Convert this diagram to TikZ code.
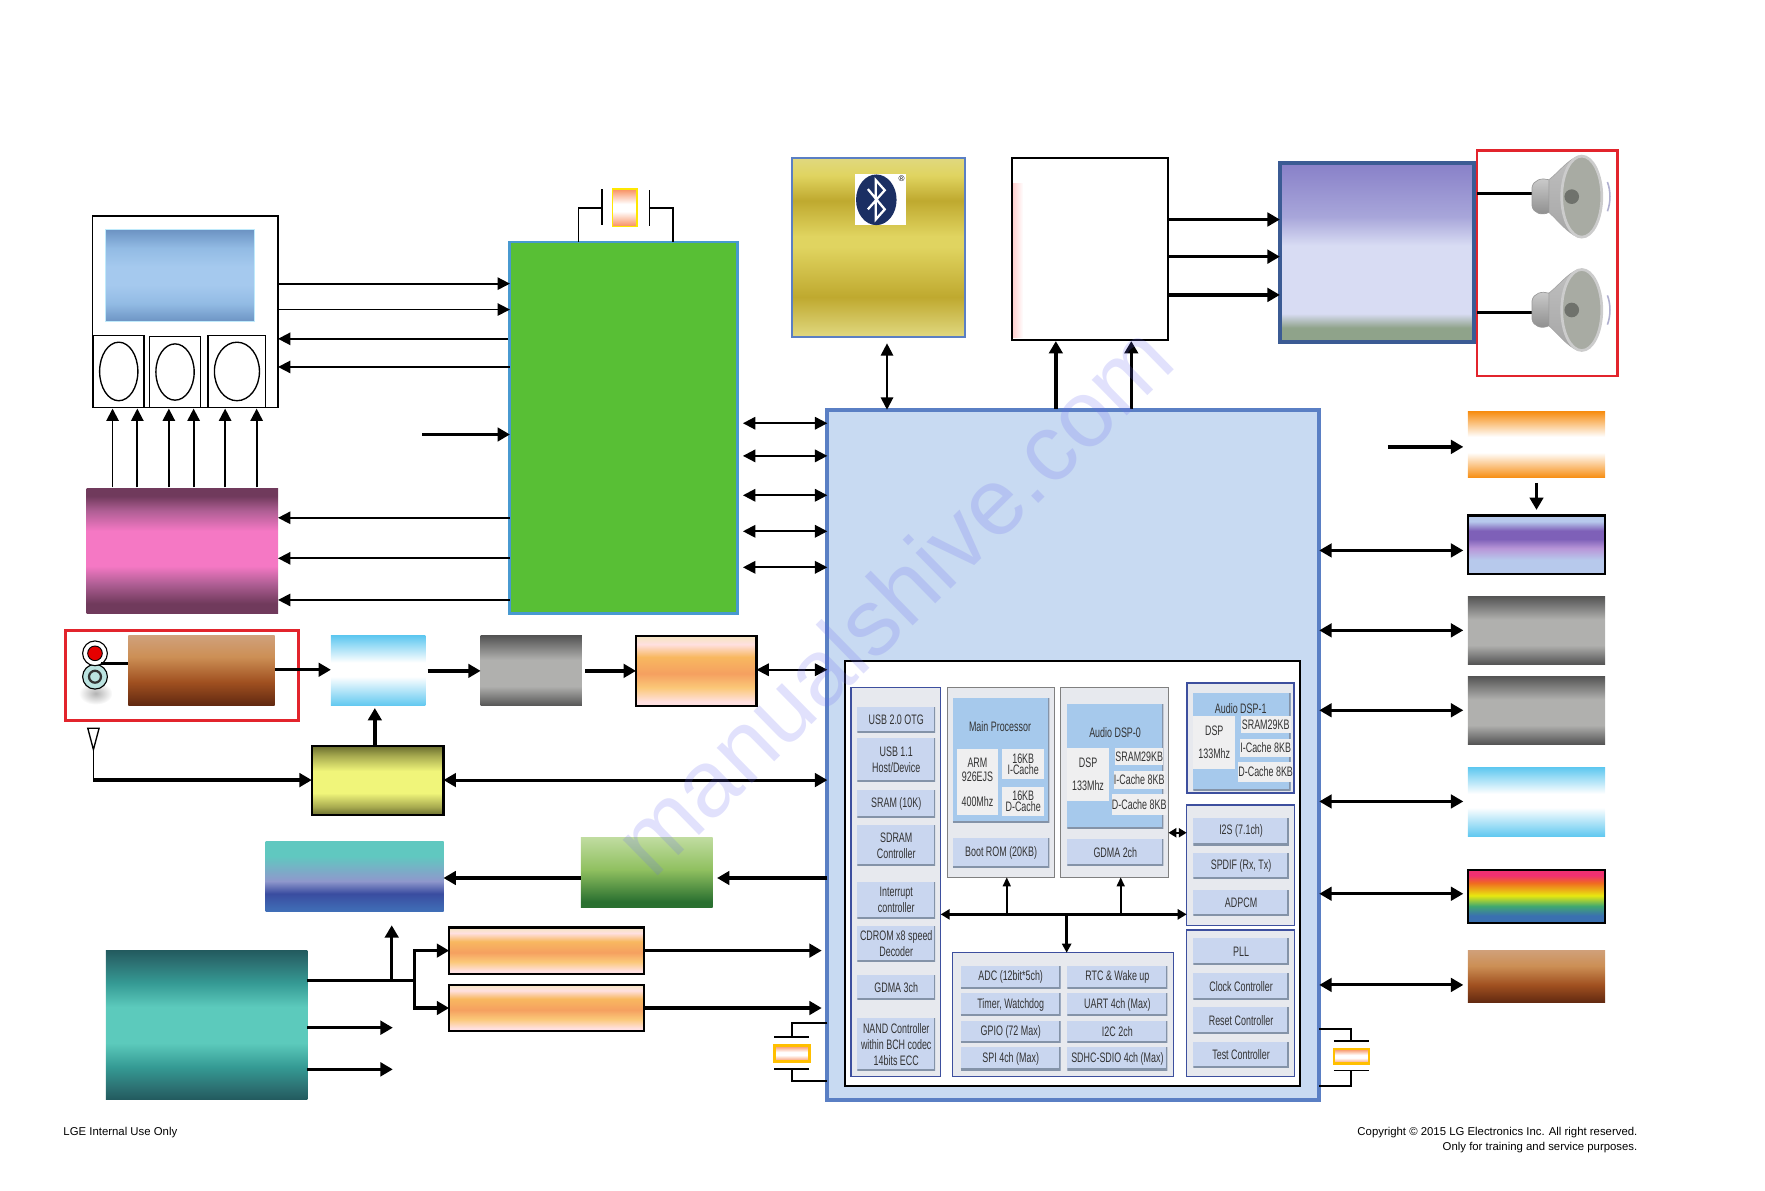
\documentclass[tikz,border=0pt]{standalone}
\usepackage{fontspec}
\setmainfont{Liberation Sans}
\newfontfamily\cellfont[FakeStretch=0.65]{Liberation Sans}
\usetikzlibrary{arrows.meta}

\definecolor{socfill}{HTML}{C8DAF2}
\definecolor{socline}{HTML}{5A7FC4}
\definecolor{panelfill}{HTML}{E7E9EE}
\definecolor{panelline}{HTML}{3D4F9E}
\definecolor{ampline}{HTML}{3B5B94}
\definecolor{cellfill}{HTML}{C9D6EF}
\definecolor{cellshade}{HTML}{8493A8}
\definecolor{dspblue}{HTML}{A6C9EC}
\definecolor{corewhite}{HTML}{EFEFF0}
\definecolor{redline}{HTML}{E2242C}
\definecolor{boardgreen}{HTML}{58BF35}
\definecolor{jackfill}{HTML}{BBE3E0}
\definecolor{conefill}{HTML}{A8ABA3}
\definecolor{domefill}{HTML}{6F726C}
\definecolor{cA}{HTML}{6C93C3}\definecolor{cB}{HTML}{92BBE4}\definecolor{cC}{HTML}{A5C9EE}
\definecolor{pA}{HTML}{703A5C}\definecolor{pB}{HTML}{B05F95}\definecolor{pC}{HTML}{F578C4}
\definecolor{tA}{HTML}{225A5E}\definecolor{tM}{HTML}{2C7072}\definecolor{tB}{HTML}{359A94}\definecolor{tC}{HTML}{5CCABC}
\definecolor{bA}{HTML}{D0A07A}\definecolor{bB}{HTML}{CC8F55}\definecolor{bC}{HTML}{A05020}\definecolor{bD}{HTML}{602810}
\definecolor{gA}{HTML}{E0D880}\definecolor{gB}{HTML}{BFA92F}\definecolor{gC}{HTML}{E0D460}
\definecolor{aA}{HTML}{8880C8}\definecolor{aB}{HTML}{A8A6DA}\definecolor{aC}{HTML}{D8DCF3}\definecolor{aD}{HTML}{8FA38A}
\definecolor{oA}{HTML}{F78F15}
\definecolor{vA}{HTML}{B7C9EC}\definecolor{vB}{HTML}{7E60B8}\definecolor{vC}{HTML}{B896D8}
\definecolor{sA}{HTML}{555555}\definecolor{sB}{HTML}{B0B0AE}
\definecolor{uA}{HTML}{60C8F0}
\definecolor{rA}{HTML}{F03070}\definecolor{rB}{HTML}{F06A20}\definecolor{rC}{HTML}{E8E810}\definecolor{rD}{HTML}{40A870}\definecolor{rE}{HTML}{3A70B0}
\definecolor{fA}{HTML}{F5E5C0}\definecolor{fB}{HTML}{FFE0E0}\definecolor{fC}{HTML}{F8B860}\definecolor{fD}{HTML}{F5A060}\definecolor{fE}{HTML}{FBC878}
\definecolor{yA}{HTML}{6B6F2F}\definecolor{yM}{HTML}{A8AB50}\definecolor{yB}{HTML}{F0F57A}
\definecolor{iA}{HTML}{60C8C0}\definecolor{iB}{HTML}{8F98CC}\definecolor{iC}{HTML}{3A4CA0}\definecolor{iD}{HTML}{4070B8}
\definecolor{nA}{HTML}{C0DCA0}\definecolor{nB}{HTML}{90C060}\definecolor{nC}{HTML}{2A7030}
\definecolor{xA}{HTML}{F89060}
\definecolor{btnavy}{HTML}{1B2F63}
\definecolor{wmark}{HTML}{6A6AF0}

\pgfdeclareverticalshading{shscreen}{100bp}{color(0bp)=(cA);color(25bp)=(cA);color(35bp)=(cB);color(45bp)=(cC);color(55bp)=(cC);color(65bp)=(cB);color(75bp)=(cA);color(100bp)=(cA)}
\pgfdeclareverticalshading{shpink}{100bp}{color(0bp)=(pA);color(25bp)=(pA);color(29bp)=(pA);color(37bp)=(pB);color(44bp)=(pC);color(58bp)=(pC);color(66bp)=(pB);color(72bp)=(pA);color(75bp)=(pA);color(100bp)=(pA)}
\pgfdeclareverticalshading{shteal}{100bp}{color(0bp)=(tA);color(25bp)=(tA);color(29bp)=(tM);color(36bp)=(tB);color(44bp)=(tC);color(56bp)=(tC);color(64bp)=(tB);color(71bp)=(tM);color(75bp)=(tA);color(100bp)=(tA)}
\pgfdeclareverticalshading{shbrown}{100bp}{color(0bp)=(bD);color(25bp)=(bD);color(42bp)=(bC);color(60bp)=(bB);color(75bp)=(bA);color(100bp)=(bA)}
\pgfdeclareverticalshading{shgold}{100bp}{color(0bp)=(gA);color(25bp)=(gA);color(36bp)=(gB);color(50bp)=(gC);color(53bp)=(gC);color(63bp)=(gB);color(70bp)=(gC);color(75bp)=(gA);color(100bp)=(gA)}
\pgfdeclareverticalshading{shamp}{100bp}{color(0bp)=(aD);color(25bp)=(aD);color(29bp)=(aD);color(33bp)=(aC);color(52bp)=(aC);color(60bp)=(aB);color(75bp)=(aA);color(100bp)=(aA)}
\pgfdeclareverticalshading{shorange}{100bp}{color(0bp)=(oA);color(25bp)=(oA);color(44bp)=(white);color(56bp)=(white);color(75bp)=(oA);color(100bp)=(oA)}
\pgfdeclareverticalshading{shviolet}{100bp}{color(0bp)=(vA);color(25bp)=(vA);color(37bp)=(vA);color(47bp)=(vC);color(55bp)=(vB);color(62bp)=(vB);color(70bp)=(vA);color(75bp)=(vA);color(100bp)=(vA)}
\pgfdeclareverticalshading{shgray}{100bp}{color(0bp)=(sA);color(25bp)=(sA);color(39bp)=(sB);color(58bp)=(sB);color(75bp)=(sA);color(100bp)=(sA)}
\pgfdeclareverticalshading{shcyan}{100bp}{color(0bp)=(uA);color(25bp)=(uA);color(46bp)=(white);color(56bp)=(white);color(75bp)=(uA);color(100bp)=(uA)}
\pgfdeclareverticalshading{shrainbow}{100bp}{color(0bp)=(rE);color(25bp)=(rE);color(32bp)=(rE);color(41bp)=(rD);color(51bp)=(rC);color(63bp)=(rB);color(70bp)=(rA);color(75bp)=(rA);color(100bp)=(rA)}
\pgfdeclareverticalshading{shpeach}{100bp}{color(0bp)=(fB);color(25bp)=(fB);color(28bp)=(fB);color(38bp)=(fE);color(48bp)=(fD);color(60bp)=(fC);color(69bp)=(fB);color(75bp)=(fA);color(100bp)=(fA)}
\pgfdeclareverticalshading{shyellow}{100bp}{color(0bp)=(yA);color(25bp)=(yA);color(31bp)=(yM);color(41bp)=(yB);color(57bp)=(yB);color(68bp)=(yM);color(75bp)=(yA);color(100bp)=(yA)}
\pgfdeclareverticalshading{shindigo}{100bp}{color(0bp)=(iD);color(25bp)=(iD);color(38bp)=(iC);color(47bp)=(iB);color(65bp)=(iA);color(75bp)=(iA);color(100bp)=(iA)}
\pgfdeclareverticalshading{shleaf}{100bp}{color(0bp)=(nC);color(25bp)=(nC);color(29bp)=(nC);color(52bp)=(nB);color(75bp)=(nA);color(100bp)=(nA)}
\pgfdeclareverticalshading{shcrystal}{100bp}{color(0bp)=(xA);color(25bp)=(xA);color(45bp)=(white);color(55bp)=(white);color(75bp)=(xA);color(100bp)=(xA)}

\tikzset{
  boxbase/.style={rectangle,inner sep=0pt,outer sep=0pt,align=center},
  blackedge/.style={draw=black,line width=1pt},
  panel/.style={fill=panelfill,draw=panelline,line width=0.6pt},
  whitecore/.style={fill=corewhite},
  cell/.style={fill=cellfill,path picture={\draw[cellshade,line width=1.4pt]
    (path picture bounding box.south west) -- (path picture bounding box.south east)
    -- (path picture bounding box.north east);}},
  celltext/.style={font=\cellfont\fontsize{6.1}{7.1}\selectfont,text=black!80},
  thinarrow/.style={-{Triangle[length=5.5pt,width=5.5pt]},line width=0.8pt},
  thinboth/.style={{Triangle[length=5.5pt,width=5.5pt]}-{Triangle[length=5.5pt,width=5.5pt]},line width=0.9pt},
  bigarrow/.style={-{Triangle[length=5.5pt,width=6pt]},line width=1.5pt},
  bigboth/.style={{Triangle[length=5.5pt,width=6pt]}-{Triangle[length=5.5pt,width=6pt]},line width=1.3pt},
  wire/.style={line width=0.8pt},
  footer/.style={font=\fontsize{5.05}{6.5}\selectfont,inner sep=0pt},
}
% corners are given: name, x1, y1, x2, y2, text
\newcommand{\blk}[7][]{%
  \pgfmathsetmacro{\blkw}{(#5-#3)/2}\pgfmathsetmacro{\blkh}{(#6-#4)/2}%
  \node[boxbase,minimum width=\blkw pt,minimum height=\blkh pt,#1] (#2) at ({(#3+#5)/2},{(#4+#6)/2}) {#7};}

\begin{document}
\begin{tikzpicture}[x=0.5pt,y=-0.5pt,line cap=butt]
\useasboundingbox (0,0) rectangle (1568,1058);

% front panel with its three buttons
\blk[draw=black,line width=0.7pt,fill=white]{remote}{82}{192}{247}{362}{}
\blk[shade,shading=shscreen,draw=cyan!25]{screen}{94}{204}{226}{286}{}
\blk[draw=black,line width=0.7pt,fill=white]{keyA}{83}{298}{128}{362}{}
\blk[draw=black,line width=0.7pt,fill=white]{keyB}{133}{299}{178}{362}{}
\blk[draw=black,line width=0.7pt,fill=white]{keyC}{185}{298}{236}{362}{}
\draw[line width=0.6pt] (keyA.center) ellipse (17 and 26);
\draw[line width=0.6pt] (keyB.center) ellipse (17 and 25);
\draw[line width=0.6pt] (keyC.center) ellipse (20 and 26);

\blk[shade,shading=shpink]{pinkblk}{77}{434}{247}{545}{}
\foreach \x in {100,122,150,172,200,228}
  \draw[thinarrow] (\x,433) -- (\x,363);

% main board block and its crystal
\blk[fill=boardgreen,draw=socline!80!cyan,line width=1.3pt]{greenblk}{453}{215}{655}{545}{}
\blk[shade,shading=shcrystal,draw=yellow!90!orange,line width=0.6pt]{xtalup}{544}{168}{566}{201}{}
\coordinate (plateL) at (535,185);
\coordinate (plateR) at (577,185);
\draw[wire] (535,168) -- (535,200);
\draw[wire] (577,169) -- (577,201);
\draw[wire] (plateL) -- (514,185) -- (514,215);
\draw[wire] (plateR) -- (598,185) -- (598,215);

\draw[thinarrow] (remote.east |- 0,252) -- (greenblk.west |- 0,252);
\draw[thinarrow] (remote.east |- 0,275) -- (greenblk.west |- 0,275);
\draw[thinarrow] (451,301) -- (remote.east |- 0,301);
\draw[thinarrow] (greenblk.west |- 0,326) -- (remote.east |- 0,326);
\coordinate (auxin) at (375,386);
\draw[bigarrow] (auxin) -- (greenblk.west |- auxin);
\draw[thinarrow] (greenblk.west |- 0,460) -- (pinkblk.east |- 0,460);
\draw[thinarrow] (greenblk.west |- 0,496) -- (pinkblk.east |- 0,496);
\draw[thinarrow] (greenblk.west |- 0,533) -- (pinkblk.east |- 0,533);

% SoC outline
\blk[fill=socfill,draw=socline,line width=1.8pt]{soc}{735}{364}{1172}{977}{}
\blk[fill=white,draw=black,line width=0.8pt]{socinner}{751}{587}{1155}{965}{}
\foreach \y in {376,405,440,472,504}
  \draw[thinboth] (660,\y) -- (soc.west |- 0,\y);

% bluetooth module
\blk[shade,shading=shgold,draw=socline,line width=0.9pt]{btblk}{704}{140}{857}{299}{}
\blk[fill=white]{btlogo}{760}{155}{805}{200}{}
\fill[btnavy] (778.5,177.5) ellipse (18 and 22.5);
\draw[white,line width=1pt,line join=miter] (771,168) -- (786,186) -- (778,195) -- (778,160) -- (786,169) -- (771,186);
\node[font=\fontsize{3.6}{4}\selectfont,inner sep=0pt] (btmark) at (801,159) {®};
\draw[thinboth] (788,305) -- (788,364);

% amplifier chain at the top
\blk[left color=red!18,right color=white]{ampstrip}{900}{163}{909}{300}{}
\blk[draw=black,line width=0.9pt]{dacblk}{899}{140}{1038}{302}{}
\blk[shade,shading=shamp,draw=ampline,line width=1.9pt]{ampblk}{1137}{145}{1310}{304}{}
\draw[bigarrow] (938,363) -- (938,303);
\draw[bigarrow] (1005,363) -- (1005,303);
\foreach \y in {195,228,262}
  \draw[bigarrow] (dacblk.east |- 0,\y) -- (ampblk.west |- 0,\y);

% speakers
\blk[draw=redline,line width=1.2pt]{spkbox}{1312}{134}{1437}{334}{}
\foreach \y/\ly in {174.7/172,275.4/278}{
  \draw[line width=1.3pt] (spkbox.west |- 0,\ly) -- (1361,\ly);
  \draw[gray!70,top color=gray!50,middle color=gray!15,bottom color=gray!70,line width=0.3pt] (1376,\y-15)
    .. controls (1385,\y-22) and (1392,\y-32) .. (1402,\y-36) -- (1402,\y+36)
    .. controls (1392,\y+32) and (1385,\y+22) .. (1376,\y+14) -- cycle;
  \draw[gray!80,top color=gray!40,middle color=gray!75,bottom color=gray!90,line width=0.3pt] (1361,\y-8) .. controls (1362,\y-15) and (1370,\y-17) .. (1376,\y-15)
    -- (1376,\y+14) .. controls (1370,\y+17) and (1362,\y+15) .. (1361,\y+8) -- cycle;
  \draw[gray!40,fill=conefill,line width=1.2pt] (1405.2,\y) ellipse (17.8 and 36);
  \fill[domefill] (1396.3,\y) circle (6.5);
  \draw[blue!25!gray!50,line width=0.7pt] (1428,\y-13) .. controls (1431,\y-5) and (1431,\y+5) .. (1428,\y+13);
}

% right hand column
\blk[shade,shading=shorange]{orangeblk}{1304}{366}{1426}{424}{}
\blk[shade,shading=shviolet,blackedge]{violetblk}{1304}{458}{1426}{510}{}
\blk[shade,shading=shgray]{grayA}{1304}{530}{1426}{590}{}
\blk[shade,shading=shgray]{grayB}{1304}{601}{1426}{661}{}
\blk[shade,shading=shcyan]{cyanA}{1304}{682}{1426}{743}{}
\blk[shade,shading=shrainbow,blackedge]{rainbowblk}{1304}{773}{1426}{820}{}
\blk[shade,shading=shbrown]{brownA}{1304}{844}{1426}{891}{}
\coordinate (hdmiin) at (1233,397);
\draw[bigarrow] (hdmiin) -- (1300,397);
\draw[bigarrow] (orangeblk.south |- 0,429) -- (orangeblk.south |- 0,453);
\foreach \y in {489,560,631,712,794,875}
  \draw[bigboth] (soc.east |- 0,\y) -- (1300,\y);

% crystals next to the SoC
\blk[shade,shading=shcrystal,draw=orange!50!yellow,line width=1.1pt]{xtalR}{1185}{932}{1216}{945}{}
\draw[wire] (soc.east |- 0,914) -- (xtalR.north |- 0,914) -- (xtalR.north |- 0,925);
\draw[wire] (1185,925) -- (1216,925);
\draw[wire] (1185,951) -- (1216,951);
\draw[wire] (xtalR.south |- 0,951) -- (xtalR.south |- 0,965) -- (soc.east |- 0,965);
\blk[shade,shading=shcrystal,draw=orange!50!yellow,line width=1.1pt]{xtalL}{688}{929}{719}{943}{}
\draw[wire] (soc.west |- 0,909) -- (xtalL.north |- 0,909) -- (xtalL.north |- 0,921);
\draw[wire] (688,921) -- (719,921);
\draw[wire] (688,950) -- (719,950);
\draw[wire] (xtalL.south |- 0,950) -- (xtalL.south |- 0,960) -- (soc.west |- 0,960);

% tuner row
\blk[draw=redline,line width=1.2pt]{jackbox}{58}{560}{265}{640}{}
\shade[inner color=gray!60,outer color=white] (85,616) ellipse (15 and 10);
\node[circle,inner sep=0pt,outer sep=0pt,minimum size=11pt,fill=jackfill,draw=black,line width=0.5pt] (jackB) at (84.4,601.2) {};
\draw[black!80,fill=jackfill,line width=1pt] (jackB) circle (5.3);
\node[circle,inner sep=0pt,outer sep=0pt,minimum size=11pt,fill=white,draw=black,line width=0.5pt] (jackA) at (84.4,580.4) {};
\fill[red!90!black,draw=black,line width=0.4pt] (jackA) circle (6.5);
\blk[shade,shading=shbrown]{brownB}{114}{565}{244}{627}{}
\draw[line width=1.6pt] (90,589.6) -- (brownB.west |- 0,589.6);
\blk[shade,shading=shcyan]{cyanB}{294}{565}{378}{627}{}
\blk[shade,shading=shgray]{grayC}{427}{565}{517}{627}{}
\blk[shade,shading=shpeach,blackedge]{peachA}{565}{565}{672}{627}{}
\draw[bigarrow] (brownB.east |- 0,595) -- (cyanB.west |- 0,595);
\draw[bigarrow] (380,596) -- (grayC.west |- 0,596);
\draw[bigarrow] (520,596) -- (peachA.west |- 0,596);
\draw[thinboth] (peachA.east |- 0,595) -- (soc.west |- 0,595);

% antenna and tuner
\coordinate (anttip) at (83,666);
\draw[line width=0.6pt,fill=white] (78,647) -- (88,647) -- (anttip) -- cycle;
\blk[shade,shading=shyellow,blackedge]{yellowblk}{277}{663}{394}{724}{}
\draw[wire] (anttip) -- (83,693);
\draw[bigarrow] (83,693) -- (yellowblk.west |- 0,693);
\draw[bigarrow] (333,663) -- (333,629);
\draw[bigboth] (yellowblk.east |- 0,693) -- (soc.west |- 0,693);

\blk[shade,shading=shindigo]{indigoblk}{236}{748}{394}{810}{}
\blk[shade,shading=shleaf]{leafblk}{516}{744}{633}{806}{}
\draw[bigarrow] (leafblk.west |- 0,780) -- (indigoblk.east |- 0,780);
\draw[bigarrow] (soc.west |- 0,780) -- (637,780);

% power block and its rails
\blk[shade,shading=shteal]{tealblk}{94}{844}{273}{977}{}
\blk[shade,shading=shpeach,blackedge]{peachB}{399}{824}{572}{865}{}
\blk[shade,shading=shpeach,blackedge]{peachC}{399}{875}{572}{916}{}
\coordinate (railjoin) at (368,871);
\draw[line width=1.5pt] (tealblk.east |- railjoin) -- (railjoin);
\draw[bigarrow] (348,871) -- (348,822);
\draw[bigarrow] (railjoin) -- (368,844.5) -- (peachB.west);
\draw[bigarrow] (railjoin) -- (368,895.5) -- (peachC.west);
\draw[bigarrow] (tealblk.east |- 0,913) -- (349,913);
\draw[bigarrow] (tealblk.east |- 0,950) -- (349,950);
\draw[bigarrow] (peachB.east) -- (730,844.5);
\draw[bigarrow] (peachC.east) -- (730,895.5);

% left column of the SoC
\blk[panel]{leftpanel}{756.1}{610.7}{835.7}{956.5}{}
\blk[cell,celltext]{usbotg}{761.7}{627.8}{830.7}{650.5}{USB 2.0 OTG}
\blk[cell,celltext]{usbhost}{761.7}{656}{830.7}{694.5}{USB 1.1\\Host/Device}
\blk[cell,celltext]{sramten}{761.7}{701.9}{830.7}{726.4}{SRAM (10K)}
\blk[cell,celltext]{sdram}{761.7}{733}{830.7}{769}{SDRAM\\Controller}
\blk[cell,celltext]{interrupt}{761.7}{783.3}{830.7}{815.9}{Interrupt\\controller}
\blk[cell,celltext]{cdrom}{761.7}{822.7}{830.7}{854.4}{CDROM x8 speed\\Decoder}
\blk[cell,celltext]{gdmathree}{761.7}{866.2}{830.7}{887.8}{GDMA 3ch}
\blk[cell,celltext]{nand}{761.7}{904}{830.7}{951.2}{NAND Controller\\within BCH codec\\14bits ECC}

% main processor
\blk[panel,draw=gray]{mainpanel}{841.6}{610.7}{937}{779.4}{}
\blk[cell,fill=dspblue]{maincore}{846.4}{620.4}{932.3}{730.6}{}
\node[celltext,inner sep=0pt] (maintitle) at (888.4,645.6) {Main Processor};
\blk[whitecore,celltext]{armcore}{850}{665.7}{886.7}{723.8}{ARM\\[-1pt]926EJS\\[4pt]400Mhz}
\blk[whitecore,celltext]{icachea}{890.5}{665.7}{927.5}{692.1}{16KB\\[-1.9pt]I-Cache}
\blk[whitecore,celltext]{dcachea}{890.5}{698.9}{927.5}{725}{16KB\\[-1.9pt]D-Cache}
\blk[cell,celltext]{bootrom}{846.4}{744.2}{932.3}{770.9}{Boot ROM (20KB)}

% audio DSP 0
\blk[panel,draw=gray]{dspzero}{942}{610.7}{1038}{779.4}{}
\blk[cell,fill=dspblue]{zerocore}{948.2}{625.8}{1033.5}{735.9}{}
\node[celltext,inner sep=0pt] (zerotitle) at (990.6,650.6) {Audio DSP-0};
\blk[whitecore,celltext]{zerodsp}{948.2}{664.3}{985}{711.3}{DSP\\[3.3pt]133Mhz}
\blk[whitecore,celltext]{zerosram}{990.6}{664.3}{1033.5}{679.7}{SRAM29KB}
\blk[whitecore,celltext]{zeroi}{990.6}{685}{1033.5}{701}{I-Cache 8KB}
\blk[whitecore,celltext]{zerod}{990.6}{705.7}{1033.5}{724.1}{D-Cache 8KB}
\blk[cell,celltext]{gdmatwo}{948.2}{745.7}{1033.5}{768.9}{GDMA 2ch}

% audio DSP 1
\blk[panel,line width=0.8pt]{dspone}{1054.2}{607.1}{1149.9}{704.5}{}
\blk[cell,fill=dspblue]{onecore}{1060.2}{615.4}{1146.6}{701.9}{}
\node[celltext,inner sep=0pt] (onetitle) at (1102.2,629.3) {Audio DSP-1};
\blk[whitecore,celltext]{onedsp}{1060.2}{635.8}{1097.2}{683.2}{DSP\\[3.3pt]133Mhz}
\blk[whitecore,celltext]{onesram}{1102.2}{635.8}{1146.6}{651.5}{SRAM29KB}
\blk[whitecore,celltext]{onei}{1102.2}{656.6}{1146.6}{672.2}{I-Cache 8KB}
\blk[whitecore,celltext]{oned}{1102.2}{676.7}{1146.6}{694.5}{D-Cache 8KB}

% audio interfaces
\blk[panel]{audiopanel}{1054.2}{715.2}{1149.9}{822.4}{}
\blk[cell,celltext]{iis}{1060.2}{726.4}{1144.9}{750.7}{I2S (7.1ch)}
\blk[cell,celltext]{spdif}{1060.2}{757.5}{1144.9}{780.4}{SPDIF (Rx, Tx)}
\blk[cell,celltext]{adpcm}{1060.2}{790.7}{1144.9}{813.3}{ADPCM}

% clocks
\blk[panel]{clockpanel}{1054.2}{826.2}{1149.9}{956.5}{}
\blk[cell,celltext]{pll}{1060.2}{833.6}{1144.9}{856.8}{PLL}
\blk[cell,celltext]{clockctl}{1060.2}{864.7}{1144.9}{887.9}{Clock Controller}
\blk[cell,celltext]{resetctl}{1060.2}{894.9}{1144.9}{918.1}{Reset Controller}
\blk[cell,celltext]{testctl}{1060.2}{925.4}{1144.9}{948}{Test Controller}

% peripherals
\blk[panel]{periph}{846.4}{846.4}{1042.4}{956.5}{}
\blk[cell,celltext]{adc}{853.5}{857.9}{942.3}{878}{ADC (12bit*5ch)}
\blk[cell,celltext]{timer}{853.5}{882.5}{942.3}{902.3}{Timer, Watchdog}
\blk[cell,celltext]{gpio}{853.5}{906.8}{942.3}{926.3}{GPIO (72 Max)}
\blk[cell,celltext]{spi}{853.5}{930.4}{942.3}{950.6}{SPI 4ch (Max)}
\blk[cell,celltext]{rtc}{948.2}{857.9}{1037.1}{878}{RTC \& Wake up}
\blk[cell,celltext]{uart}{948.2}{882.5}{1037.1}{902.3}{UART 4ch (Max)}
\blk[cell,celltext]{iic}{948.2}{906.8}{1037.1}{926.3}{I2C 2ch}
\blk[cell,celltext]{sdhc}{948.2}{930.4}{1037.1}{950.6}{SDHC-SDIO 4ch (Max)}

% internal bus
\draw[{Triangle[length=4pt,width=4.5pt]}-{Triangle[length=4pt,width=4.5pt]},line width=1.3pt] (leftpanel.east |- 0,812.3) -- (audiopanel.west |- 0,812.3);
\draw[-{Triangle[length=4pt,width=3.5pt]},line width=0.8pt] (894.4,812.3) -- (894.4,0 |- mainpanel.south);
\draw[-{Triangle[length=4pt,width=3.5pt]},line width=0.8pt] (995.6,812.3) -- (995.6,0 |- dspzero.south);
\draw[-{Triangle[length=4pt,width=4pt]},line width=1.1pt] (947.6,812.3) -- (947.6,0 |- periph.north);
\draw[{Triangle[length=3.5pt,width=4pt]}-{Triangle[length=3.5pt,width=4pt]},line width=1pt] (dspzero.east |- 0,739.8) -- (audiopanel.west |- 0,739.8);

% page footer
\node[footer,anchor=west] (lefttext) at (56,1006) {LGE Internal Use Only};
\node[footer,anchor=east,align=right] (righttext) at (1455,1013) {Copyright © 2015 LG Electronics Inc. All right reserved.\\Only for training and service purposes.};

\node[rotate=44.4,font=\fontsize{42}{48}\selectfont,text=wmark,text opacity=0.2,inner sep=0pt] (watermark) at (793,532) {manualshive.com};
\end{tikzpicture}
\end{document}
